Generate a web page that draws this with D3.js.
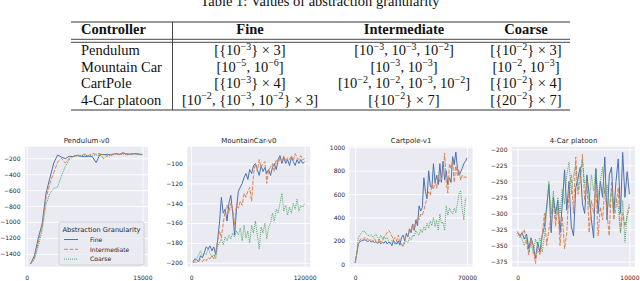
<!DOCTYPE html>
<html>
<head>
<meta charset="utf-8">
<script src="https://cdn.jsdelivr.net/npm/d3@7"></script>
<style>
  body { margin: 0; background: #fff; }
  svg { display: block; }
</style>
</head>
<body>
<script>
// ---- table data ----
var tableCaption = "Table 1: Values of abstraction granularity";
var tableHeader = ["Controller", "Fine", "Intermediate", "Coarse"];
var controllers = ["Pendulum", "Mountain Car", "CartPole", "4-Car platoon"];
// "^" marks a superscript exponent
var fineVals = ["[{10^−3} × 3]", "[10^−5, 10^−6]", "[{10^−3} × 4]", "[10^−2, {10^−3, 10^−2} × 3]"];
var interVals = ["[10^−3, 10^−3, 10^−2]", "[10^−3, 10^−3]", "[10^−2, 10^−2, 10^−3, 10^−2]", "[{10^−2} × 7]"];
var coarseVals = ["[{10^−2} × 3]", "[10^−2, 10^−3]", "[{10^−2} × 4]", "[{20^−2} × 7]"];

// ---- chart data ----
var chartTitles = ["Pendulum-v0", "MountainCar-v0", "Cartpole-v1", "4-Car platoon"];
var seriesNames = ["Fine", "Intermediate", "Coarse"];
var legendTitle = "Abstraction Granularity";

var pendSteps = d3.range(500, 15001, 500);
var pendFine = [-1525,-1420,-1200,-1020,-640,-450,-260,-160,-185,-205,-175,-180,-165,-175,-180,-175,-180,-255,-150,-155,-150,-160,-140,-150,-135,-145,-150,-140,-145,-155];
var pendInter = [-1525,-1450,-1250,-1050,-700,-520,-380,-250,-200,-260,-200,-175,-160,-165,-150,-165,-140,-150,-140,-210,-160,-150,-140,-155,-125,-150,-145,-140,-155,-150];
var pendCoarse = [-1525,-1470,-1300,-1100,-780,-640,-580,-560,-420,-300,-220,-180,-170,-165,-160,-170,-165,-160,-165,-150,-175,-160,-150,-155,-150,-160,-145,-155,-150,-160];
var pendTicks = [-1400, -1200, -1000, -800, -600, -400, -200];

var mcSteps = d3.range(2000, 120001, 2000);
var mcFine = [-199,-196,-197,-199,-193,-195,-190,-184,-186,-183,-188,-184,-192,-178,-160,-134,-150,-146,-158,-140,-132,-150,-172,-146,-128,-124,-120,-114,-110,-116,-106,-110,-102,-100,-106,-112,-102,-108,-104,-110,-106,-112,-104,-100,-106,-96,-92,-100,-94,-100,-96,-102,-94,-98,-102,-96,-100,-96,-100,-98];
var mcInter = [-200,-199,-200,-198,-197,-199,-196,-198,-195,-196,-193,-196,-190,-178,-168,-175,-160,-148,-142,-150,-140,-146,-162,-140,-145,-138,-142,-130,-134,-128,-124,-138,-110,-100,-108,-96,-104,-100,-98,-120,-106,-104,-100,-108,-96,-100,-94,-98,-92,-98,-94,-96,-92,-97,-90,-94,-96,-92,-96,-95];
var mcCoarse = [-200,-198,-196,-192,-188,-194,-190,-192,-186,-190,-194,-192,-196,-184,-180,-176,-182,-174,-178,-172,-176,-170,-174,-168,-172,-165,-178,-162,-175,-168,-180,-162,-170,-158,-172,-186,-164,-170,-160,-176,-164,-160,-150,-158,-146,-150,-140,-130,-148,-142,-152,-144,-150,-140,-146,-136,-148,-142,-144,-140];
var mcTicks = [-200, -180, -160, -140, -120, -100];

var cpSteps = d3.range(0, 70001, 1000);
var cpFine = [15,90,175,195,200,205,210,200,195,205,190,200,185,195,180,195,175,190,180,200,175,190,185,160,205,185,175,200,165,230,250,200,265,235,300,270,345,290,380,330,500,455,485,740,620,560,800,670,650,860,700,760,680,860,700,880,720,800,680,740,700,920,850,960,820,760,790,820,860,880,910];
var cpInter = [10,90,180,210,220,210,230,205,225,200,215,190,220,200,180,215,190,200,230,250,270,290,270,240,210,230,200,250,180,170,150,200,250,240,310,280,340,300,360,400,380,430,420,460,520,560,620,590,680,640,720,650,760,700,730,790,950,700,610,860,820,880,700,840,760,810,720,760,740,750,730];
var cpCoarse = [15,120,230,250,270,285,280,260,250,240,255,230,240,260,230,205,250,220,240,215,230,200,175,205,190,170,200,175,165,180,160,190,200,185,230,210,250,240,290,260,250,300,270,320,290,350,310,370,330,400,320,380,290,430,350,360,290,500,420,480,450,430,480,440,520,600,630,470,380,560,550];
var cpTicks = [0, 200, 400, 600, 800, 1000];

var platSteps = d3.range(0, 10001, 200);
var platFine = [-330,-335,-330,-340,-332,-355,-338,-350,-370,-345,-360,-335,-320,-290,-255,-330,-275,-300,-280,-330,-285,-232,-295,-250,-320,-335,-260,-245,-228,-285,-300,-240,-270,-310,-338,-230,-300,-250,-275,-212,-310,-240,-228,-300,-250,-215,-300,-205,-275,-235,-270];
var platInter = [-328,-338,-332,-325,-345,-365,-340,-355,-378,-352,-365,-335,-300,-350,-325,-305,-285,-320,-290,-350,-305,-355,-330,-262,-240,-300,-212,-270,-250,-208,-280,-250,-330,-280,-300,-255,-335,-290,-310,-260,-300,-335,-250,-310,-290,-260,-330,-300,-320,-305,-290];
var platCoarse = [-335,-332,-340,-350,-338,-360,-345,-362,-340,-350,-338,-360,-335,-295,-250,-300,-265,-310,-275,-300,-262,-285,-240,-220,-270,-240,-225,-262,-232,-218,-255,-245,-290,-240,-265,-230,-275,-250,-228,-270,-255,-290,-262,-300,-275,-290,-330,-280,-345,-300,-285];
var platTicks = [-375, -350, -325, -300, -275, -250, -225, -200];

var xMaxTicks = [15000, 120000, 70000, 10000];

// seaborn "deep" palette and line styles
var colors = ["#4c72b0", "#dd8452", "#55a868"];
var dashes = [null, "4,1.5", "1,1"];

var W = 640, H = 281;
var svg = d3.select("body").append("svg")
    .attr("width", W)
    .attr("height", H);

// ================= table =================
var serif = "'Liberation Serif', 'Times New Roman', serif";

// write a string with ^exponents as tspans
function richText(sel, str) {
    var parts = str.split(/\^(−?\d+)/);
    parts.forEach(function (p, i) {
        if (p === "") return;
        if (i % 2 === 1) {
            sel.append("tspan").attr("dy", -5.5).attr("font-size", "10px").text(p);
        } else {
            var t = sel.append("tspan").text(p);
            if (i > 0) t.attr("dy", 5.5);
        }
    });
}

var tab = svg.append("g").attr("font-family", serif).attr("font-size", "14.5px").attr("fill", "#111");

// the caption is cut by the top edge in the source picture
tab.append("text")
    .attr("x", 320).attr("y", 6)
    .attr("text-anchor", "middle")
    .text(tableCaption);

var tLeft = 71, tRight = 570, vLine = 172.5;
var colX = [81, 250, 404, 526];
var rowY = [55, 71.5, 88, 104.5];

tab.append("line").attr("x1", tLeft).attr("x2", tRight).attr("y1", 22).attr("y2", 22)
    .attr("stroke", "#333").attr("stroke-width", 1.1);
tab.append("line").attr("x1", tLeft).attr("x2", tRight).attr("y1", 39.3).attr("y2", 39.3)
    .attr("stroke", "#333").attr("stroke-width", 0.9);
tab.append("line").attr("x1", tLeft).attr("x2", tRight).attr("y1", 42.3).attr("y2", 42.3)
    .attr("stroke", "#333").attr("stroke-width", 0.9);
tab.append("line").attr("x1", tLeft).attr("x2", tRight).attr("y1", 110).attr("y2", 110)
    .attr("stroke", "#333").attr("stroke-width", 1.1);
tab.append("line").attr("x1", vLine).attr("x2", vLine).attr("y1", 22).attr("y2", 110)
    .attr("stroke", "#333").attr("stroke-width", 0.9);

tableHeader.forEach(function (h, i) {
    tab.append("text")
        .attr("x", colX[i]).attr("y", 34)
        .attr("text-anchor", i === 0 ? "start" : "middle")
        .attr("font-weight", "bold")
        .text(h);
});

controllers.forEach(function (c, r) {
    tab.append("text").attr("x", colX[0]).attr("y", rowY[r]).text(c);
    [fineVals, interVals, coarseVals].forEach(function (vals, j) {
        var t = tab.append("text")
            .attr("x", colX[j + 1]).attr("y", rowY[r])
            .attr("text-anchor", "middle");
        richText(t, vals[r]);
    });
});

// ================= charts =================
var sans = "'DejaVu Sans', sans-serif";
var panelLeft = [25, 187.3, 349.6, 512];
var panelTop = 146.7, panelW = 123, panelH = 120;

var panels = [
    { steps: pendSteps, series: [pendFine, pendInter, pendCoarse], xDomain: [-225, 15725], yDomain: [-1560, -55], yTicks: pendTicks },
    { steps: mcSteps, series: [mcFine, mcInter, mcCoarse], xDomain: [-4000, 126000], yDomain: [-204, -83], yTicks: mcTicks },
    { steps: cpSteps, series: [cpFine, cpInter, cpCoarse], xDomain: [-3500, 73500], yDomain: [-20, 1005], yTicks: cpTicks },
    { steps: platSteps, series: [platFine, platInter, platCoarse], xDomain: [-500, 10500], yDomain: [-383, -196], yTicks: platTicks }
];

panels.forEach(function (p, i) {
    var g = svg.append("g")
        .attr("transform", "translate(" + panelLeft[i] + "," + panelTop + ")")
        .attr("font-family", sans);

    var x = d3.scaleLinear().domain(p.xDomain).range([0, panelW]);
    var y = d3.scaleLinear().domain(p.yDomain).range([panelH, 0]);

    g.append("rect")
        .attr("width", panelW).attr("height", panelH)
        .attr("fill", "#eaeaf2");

    var yAxis = g.append("g")
        .call(d3.axisLeft(y).tickValues(p.yTicks).tickFormat(d3.format("d"))
            .tickSize(-panelW).tickPadding(4.5));
    var xAxis = g.append("g")
        .attr("transform", "translate(0," + panelH + ")")
        .call(d3.axisBottom(x).tickValues([0, xMaxTicks[i]]).tickFormat(d3.format("d"))
            .tickSize(-panelH).tickPadding(9));

    [yAxis, xAxis].forEach(function (a) {
        a.select(".domain").remove();
        a.selectAll(".tick line").attr("stroke", "#fff").attr("stroke-width", 0.9);
        a.selectAll(".tick text")
            .attr("fill", "#262626")
            .attr("font-family", sans)
            .attr("font-size", "6px");
    });

    var line = d3.line()
        .x(function (d, k) { return x(p.steps[k]); })
        .y(function (d) { return y(d); });

    p.series.forEach(function (s, j) {
        g.append("path")
            .datum(s)
            .attr("d", line)
            .attr("fill", "none")
            .attr("stroke", colors[j])
            .attr("stroke-width", 1)
            .attr("stroke-dasharray", dashes[j])
            .attr("stroke-linejoin", "round");
    });

    g.append("text")
        .attr("x", panelW / 2).attr("y", -3.5)
        .attr("text-anchor", "middle")
        .attr("font-size", "7px")
        .attr("fill", "#262626")
        .text(chartTitles[i]);
});

// legend in the first panel
var leg = svg.append("g")
    .attr("transform", "translate(59,222)")
    .attr("font-family", sans);

leg.append("rect")
    .attr("width", 85).attr("height", 43)
    .attr("rx", 2)
    .attr("fill", "#eaeaf2").attr("fill-opacity", 0.8)
    .attr("stroke", "#cccccc").attr("stroke-width", 0.8);

leg.append("text")
    .attr("x", 42.5).attr("y", 9.8)
    .attr("text-anchor", "middle")
    .attr("font-size", "6.7px")
    .attr("fill", "#262626")
    .text(legendTitle);

seriesNames.forEach(function (n, j) {
    var yy = 17.5 + j * 9.8;
    leg.append("line")
        .attr("x1", 5).attr("x2", 19)
        .attr("y1", yy).attr("y2", yy)
        .attr("stroke", colors[j])
        .attr("stroke-width", 1)
        .attr("stroke-dasharray", dashes[j]);
    leg.append("text")
        .attr("x", 31).attr("y", yy + 2.2)
        .attr("font-size", "6.1px")
        .attr("fill", "#262626")
        .text(n);
});
</script>
</body>
</html>
